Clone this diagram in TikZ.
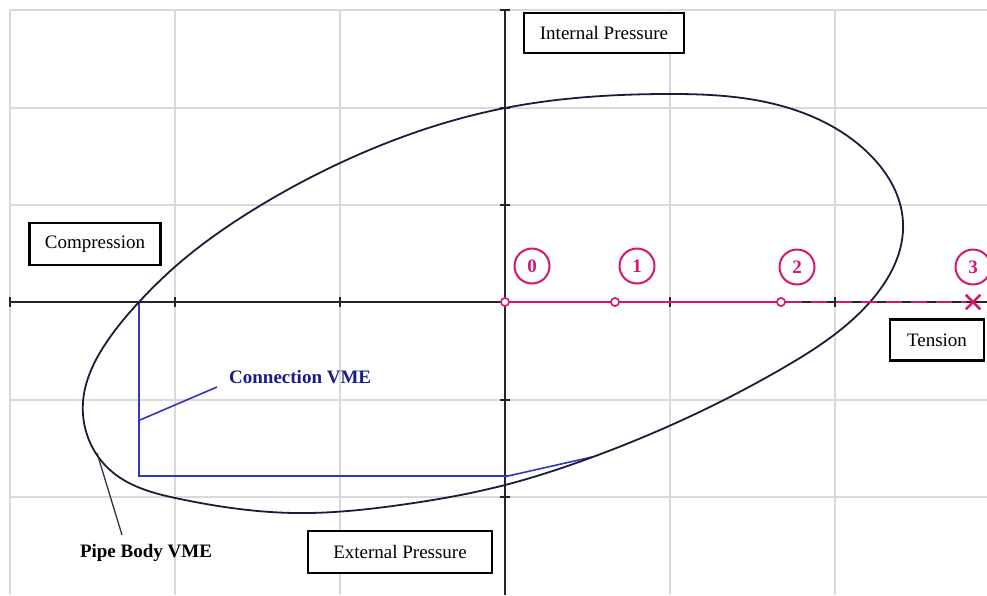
\documentclass[tikz,border=0pt]{standalone}
\usepackage{fontspec}
\setmainfont{Liberation Serif}
\usetikzlibrary{shapes.misc,hobby}
\definecolor{gridgray}{HTML}{D9D9D9}
\definecolor{ellcol}{HTML}{1C1C3A}
\definecolor{bluel}{HTML}{3535C4}
\definecolor{bluet}{HTML}{1A1A8C}
\definecolor{mag}{HTML}{D8166E}
\begin{document}
\begin{tikzpicture}[x=1pt,y=-1pt,
  lbl/.style={font=\fontsize{19}{22}\selectfont},
  boldlbl/.style={font=\fontsize{19}{22}\selectfont\bfseries, inner sep=0pt},
  boxlbl/.style={lbl, draw=black, line width=2.5pt, inner sep=0pt, fill=white},
  gridln/.style={draw=gridgray, line width=1.5pt},
  axisln/.style={draw=black!85, line width=1.3pt},
  numc/.style={circle, draw=mag, line width=2pt, minimum size=35pt, inner sep=0pt, text=mag, font=\fontsize{19}{22}\selectfont\bfseries},
  markc/.style={circle, draw=mag, fill=white, line width=1.5pt, minimum size=8pt, inner sep=0pt},
  magline/.style={draw=mag, line width=2pt},
]
\useasboundingbox (0,0) rectangle (987,595);
\clip (0,0) rectangle (987,595);
\fill[white] (0,0) rectangle (987,595);
% grid
\foreach \gx in {10,175,340,670,835} \draw[gridln] (\gx,10) -- (\gx,595);
\foreach \gy in {10,108,205,400,497} \draw[gridln] (10,\gy) -- (987,\gy);
% axes
\draw[axisln] (10,302) -- (987,302);
\draw[axisln] (505,10) -- (505,595);
\foreach \gx in {10,175,340,670,835} \draw[axisln] (\gx,297) -- (\gx,307);
\foreach \gy in {10,108,205,400,497} \draw[axisln] (500,\gy) -- (510,\gy);
% connection VME envelope
\draw[bluel, line width=1.6pt] (139,302) -- (139,476) -- (508,476) -- (592,457);
% pipe body VME ellipse
\draw[ellcol, line width=1.8pt] plot[closed hobby] coordinates {
 (505,108) (662,94) (770,103) (865,150) (903,222) (870,302) (783,368)
 (590,458) (505,485) (400,505) (295,513) (180,499) (110,470) (83,402)
 (106,343) (139,302) (177,265) (253,210) (340,163)};
% magenta load path
\node[markc] (m0) at (505,302) {};
\node[markc] (m1) at (615,302) {};
\node[markc] (m2) at (781,302) {};
\node[draw=mag, cross out, line width=2.5pt, minimum size=12pt, inner sep=0pt] (mx) at (973,302) {};
\draw[magline] (m0) -- (m1);
\draw[magline] (m1) -- (m2);
\draw[magline, dash pattern=on 16pt off 9pt] (m2) -- (mx);
\node[markc] at (m0) {};
\node[markc] at (m1) {};
\node[markc] at (m2) {};
\node[numc] (n0) at (532,266) {0};
\node[numc] (n1) at (637,266) {1};
\node[numc] (n2) at (797,267) {2};
\node[numc] (n3) at (973,267) {3};
% box labels
\node[boxlbl, minimum width=160pt, minimum height=40pt] (intp) at (604,33) {Internal Pressure};
\node[boxlbl, minimum width=131pt, minimum height=42pt] (comp) at (95,244) {Compression};
\node[boxlbl, minimum width=94pt, minimum height=41pt] (tens) at (937,340) {Tension};
\node[boxlbl, minimum width=184pt, minimum height=42pt] (extp) at (400,552) {External Pressure};
% leaders
\coordinate (cvA) at (140,420);
\coordinate (cvB) at (217,387);
\node[boldlbl, text=bluet, anchor=west] (cvme) at (229,377) {Connection VME};
\draw[bluel, line width=1.6pt] (cvA) -- (cvB);
\coordinate (pbA) at (97,453);
\coordinate (pbB) at (122,535);
\node[boldlbl, text=black] (pbl) at (146,553) {Pipe Body VME};
\draw[black!80, line width=1.3pt] (pbA) -- (pbB);
\end{tikzpicture}
\end{document}
